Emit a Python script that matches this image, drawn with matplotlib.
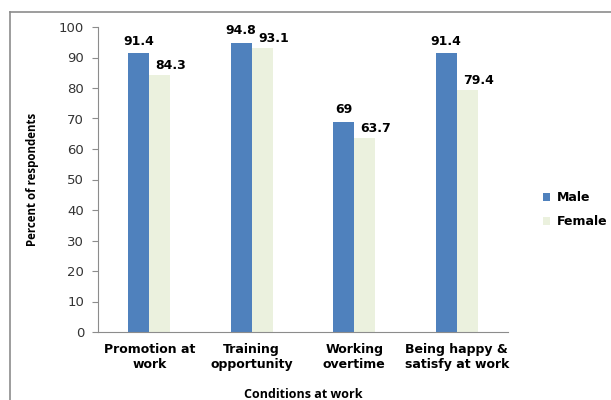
import numpy as np
import matplotlib
matplotlib.use("Agg")
import matplotlib.pyplot as plt
from matplotlib.lines import Line2D

# data
categories = ["Promotion at\nwork", "Training\nopportunity", "Working\novertime",
              "Being happy &\nsatisfy at work"]
male = [91.4, 94.8, 69, 91.4]
female = [84.3, 93.1, 63.7, 79.4]
series_names = ["Male", "Female"]
yticks = [0, 10, 20, 30, 40, 50, 60, 70, 80, 90, 100]

male_color = "#4F81BD"
female_color = "#EBF1DE"

fig = plt.figure(figsize=(6.11, 4.0), dpi=100)
ax = fig.add_axes([0.1604, 0.17, 0.671, 0.7625])

# outer chart frame (only left/top visible in the reference)
fig.add_artist(Line2D([0.0165, 0.0165], [0.0, 0.97], color="#8c8c8c", lw=1.2, transform=fig.transFigure))
fig.add_artist(Line2D([0.0165, 1.0], [0.97, 0.97], color="#8c8c8c", lw=1.2, transform=fig.transFigure))

x = np.arange(len(categories))
w = 0.205
b1 = ax.bar(x - w / 2, male, w, color=male_color, label=series_names[0])
b2 = ax.bar(x + w / 2, female, w, color=female_color, label=series_names[1])

lab_font = dict(family="DejaVu Sans", fontsize=9, fontweight="bold", color="black")
for bar, v in zip(b1, male):
    ax.annotate(f"{v:g}", (bar.get_x() + bar.get_width() / 2, v), xytext=(0, 4),
                textcoords="offset points", ha="center", va="bottom", **lab_font)
for bar, v in zip(b2, female):
    ax.annotate(f"{v:g}", (bar.get_x() + bar.get_width() / 2, v), xytext=(8, 2),
                textcoords="offset points", ha="center", va="bottom", **lab_font)

ax.set_xlim(-0.5, len(categories) - 0.5)
ax.set_ylim(0, 100)
ax.set_yticks(yticks)
ax.set_yticklabels([str(t) for t in yticks], family="DejaVu Sans", fontsize=9.5, color="#333333")
ax.set_xticks(x)
ax.set_xticklabels(categories, family="DejaVu Sans", fontsize=9, fontweight="bold")
ax.tick_params(axis="x", length=0, pad=8)
ax.tick_params(axis="y", length=4, color="#8c8c8c", direction="out", pad=6)

for s in ["top", "right"]:
    ax.spines[s].set_visible(False)
ax.spines["left"].set_color("#8c8c8c")
ax.spines["bottom"].set_color("#8c8c8c")

ax.set_ylabel("Percent of respondents", family="Open Sans", fontsize=8.3, fontweight="bold", labelpad=14)
ax.set_xlabel("Conditions at work", family="Open Sans", fontsize=9, fontweight="bold", labelpad=12)

leg = fig.legend(loc="upper left", bbox_to_anchor=(0.87, 0.55), frameon=False,
                 handlelength=0.6, handleheight=0.6, handletextpad=0.5, labelspacing=0.9,
                 prop=dict(family="DejaVu Sans", size=9, weight="bold"))

fig.savefig("out.png", dpi=100)
